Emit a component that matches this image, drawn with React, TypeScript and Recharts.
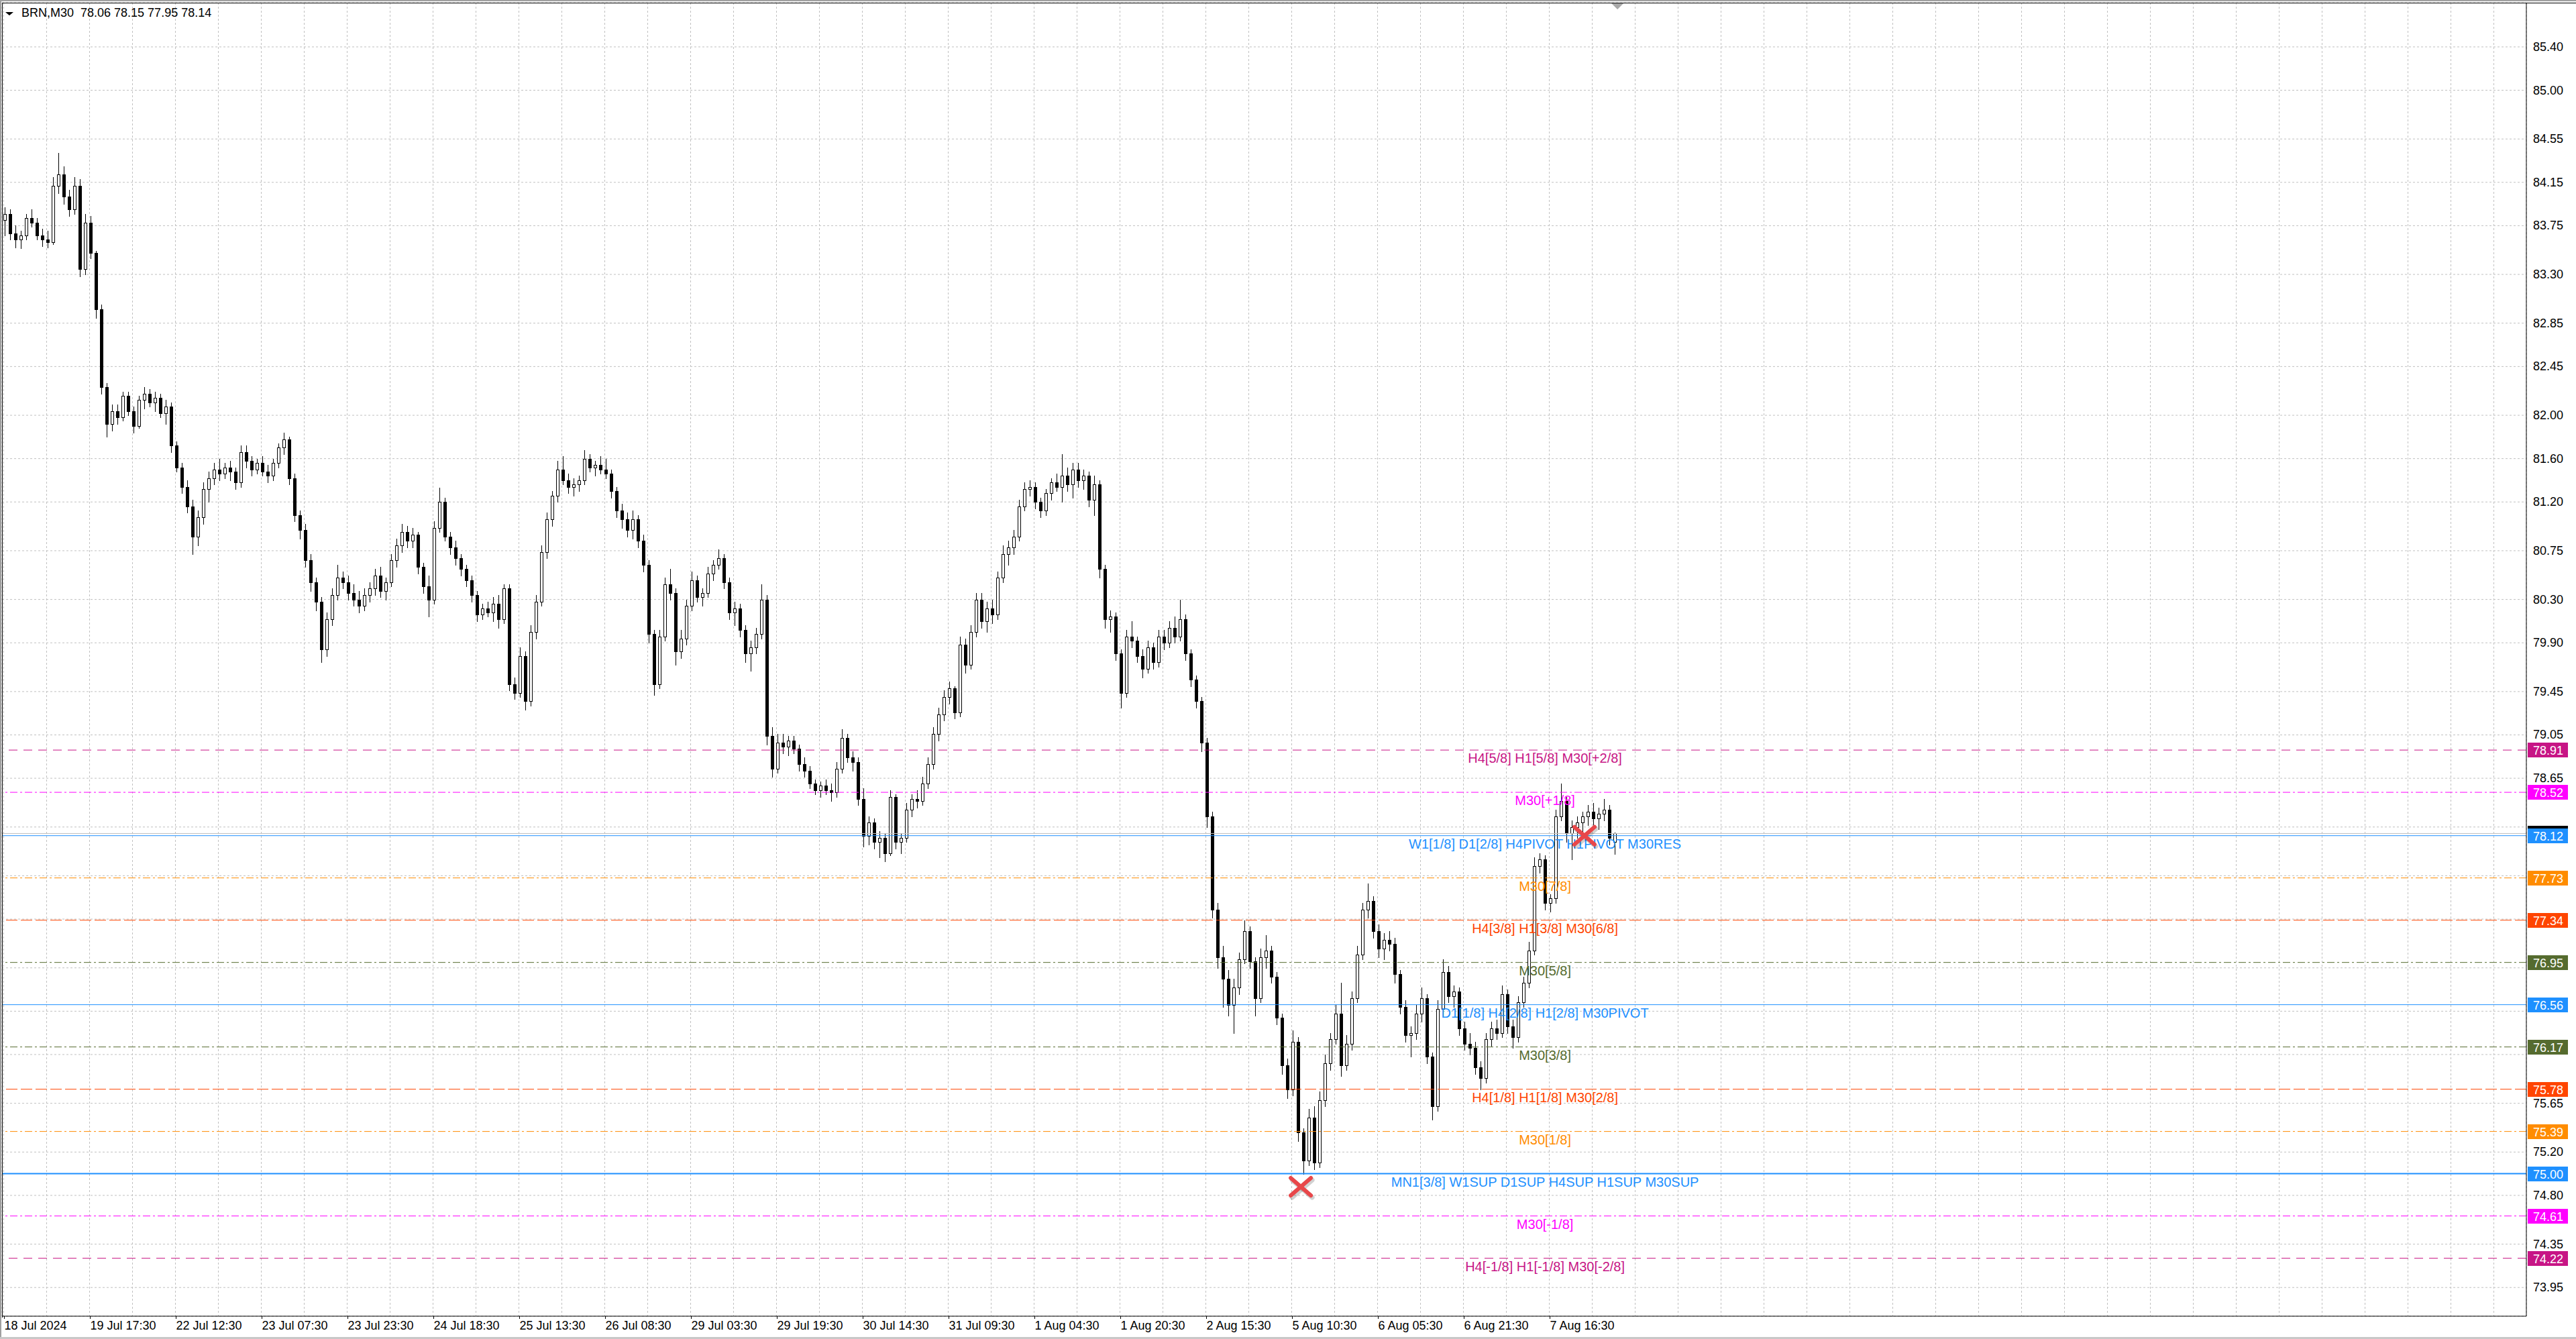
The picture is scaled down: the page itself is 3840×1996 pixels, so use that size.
import React from 'react';
import { ComposedChart, Bar, XAxis, YAxis, CartesianGrid, ReferenceLine, ReferenceDot } from 'recharts';

const SYMBOL = 'BRN,M30';
const FONT = "'Liberation Sans', Arial, sans-serif";

const timeLabels = [
  '18 Jul 2024', '19 Jul 17:30', '22 Jul 12:30', '23 Jul 07:30', '23 Jul 23:30',
  '24 Jul 18:30', '25 Jul 13:30', '26 Jul 08:30', '29 Jul 03:30', '29 Jul 19:30',
  '30 Jul 14:30', '31 Jul 09:30', '1 Aug 04:30', '1 Aug 20:30', '2 Aug 15:30',
  '5 Aug 10:30', '6 Aug 05:30', '6 Aug 21:30', '7 Aug 16:30',
];

// [open, high, low, close] - one candle per hour, one array per time-label span
const s18Jul = [
  [83.80, 83.92, 83.66, 83.86], [83.86, 83.90, 83.62, 83.68], [83.68, 83.75, 83.55, 83.62], [83.62, 83.70, 83.54, 83.66],
  [83.66, 83.86, 83.62, 83.82], [83.82, 83.90, 83.74, 83.78], [83.78, 83.82, 83.62, 83.66], [83.66, 83.72, 83.56, 83.62],
  [83.62, 83.70, 83.55, 83.60], [83.60, 84.20, 83.58, 84.12], [84.12, 84.42, 84.05, 84.22], [84.22, 84.30, 83.95, 84.02],
  [84.02, 84.08, 83.84, 83.90], [83.90, 84.20, 83.86, 84.12], [84.12, 84.18, 83.28, 83.35], [83.35, 83.86, 83.30, 83.78],
];
const s19Jul = [
  [83.78, 83.84, 83.45, 83.50], [83.50, 83.52, 82.90, 82.98], [82.98, 83.02, 82.20, 82.26], [82.26, 82.30, 81.80, 81.92],
  [81.92, 82.10, 81.86, 82.04], [82.04, 82.10, 81.92, 81.98], [81.98, 82.22, 81.95, 82.18], [82.18, 82.22, 82.00, 82.04],
  [82.04, 82.08, 81.84, 81.90], [81.90, 82.18, 81.88, 82.14], [82.14, 82.26, 82.06, 82.20], [82.20, 82.24, 82.08, 82.12],
  [82.12, 82.22, 82.04, 82.16], [82.16, 82.20, 81.98, 82.02], [82.02, 82.14, 81.92, 82.08], [82.08, 82.12, 81.66, 81.72],
];
const s22Jul = [
  [81.72, 81.76, 81.48, 81.52], [81.52, 81.56, 81.28, 81.34], [81.34, 81.40, 81.10, 81.16], [81.16, 81.22, 80.72, 80.88],
  [80.88, 81.12, 80.80, 81.06], [81.06, 81.38, 81.00, 81.32], [81.32, 81.48, 81.20, 81.42], [81.42, 81.56, 81.36, 81.50],
  [81.50, 81.60, 81.40, 81.46], [81.46, 81.56, 81.42, 81.52], [81.52, 81.58, 81.40, 81.48], [81.48, 81.52, 81.32, 81.38],
  [81.38, 81.72, 81.34, 81.66], [81.66, 81.72, 81.52, 81.58], [81.58, 81.62, 81.44, 81.50], [81.50, 81.60, 81.46, 81.56],
];
const s23JulAm = [
  [81.56, 81.62, 81.44, 81.48], [81.48, 81.54, 81.38, 81.44], [81.44, 81.60, 81.40, 81.56], [81.56, 81.74, 81.52, 81.70],
  [81.70, 81.84, 81.64, 81.78], [81.78, 81.80, 81.36, 81.42], [81.42, 81.46, 81.02, 81.08], [81.08, 81.12, 80.86, 80.94],
  [80.94, 81.00, 80.60, 80.66], [80.66, 80.72, 80.38, 80.46], [80.46, 80.50, 80.20, 80.28], [80.28, 80.32, 79.72, 79.84],
  [79.84, 80.18, 79.78, 80.12], [80.12, 80.40, 80.06, 80.34], [80.34, 80.62, 80.30, 80.50], [80.50, 80.56, 80.40, 80.46],
];
const s23JulPm = [
  [80.46, 80.52, 80.30, 80.36], [80.36, 80.44, 80.24, 80.30], [80.30, 80.38, 80.18, 80.24], [80.24, 80.40, 80.20, 80.34],
  [80.34, 80.46, 80.28, 80.40], [80.40, 80.58, 80.34, 80.52], [80.52, 80.60, 80.32, 80.38], [80.38, 80.50, 80.30, 80.46],
  [80.46, 80.72, 80.42, 80.66], [80.66, 80.86, 80.60, 80.80], [80.80, 81.00, 80.74, 80.92], [80.92, 80.98, 80.78, 80.84],
  [80.84, 80.96, 80.78, 80.90], [80.90, 80.92, 80.54, 80.60], [80.60, 80.64, 80.36, 80.42], [80.42, 80.52, 80.14, 80.30],
];
const s24Jul = [
  [80.30, 81.02, 80.26, 80.96], [80.96, 81.33, 80.92, 81.20], [81.20, 81.24, 80.84, 80.88], [80.88, 80.92, 80.72, 80.78],
  [80.78, 80.84, 80.62, 80.68], [80.68, 80.72, 80.52, 80.58], [80.58, 80.62, 80.42, 80.48], [80.48, 80.52, 80.28, 80.34],
  [80.34, 80.38, 80.10, 80.16], [80.16, 80.26, 80.12, 80.22], [80.22, 80.28, 80.14, 80.18], [80.18, 80.32, 80.10, 80.26],
  [80.26, 80.34, 80.04, 80.12], [80.12, 80.44, 80.08, 80.40], [80.40, 80.44, 79.46, 79.52], [79.52, 79.58, 79.38, 79.44],
];
const s25Jul = [
  [79.44, 79.86, 79.40, 79.78], [79.78, 79.82, 79.28, 79.36], [79.36, 80.06, 79.32, 80.00], [80.00, 80.34, 79.94, 80.28],
  [80.28, 80.80, 80.24, 80.74], [80.74, 81.10, 80.68, 81.04], [81.04, 81.30, 80.98, 81.26], [81.26, 81.58, 81.20, 81.50],
  [81.50, 81.62, 81.36, 81.40], [81.40, 81.46, 81.28, 81.34], [81.34, 81.42, 81.26, 81.36], [81.36, 81.44, 81.30, 81.40],
  [81.40, 81.68, 81.36, 81.60], [81.60, 81.64, 81.48, 81.52], [81.52, 81.58, 81.44, 81.54], [81.54, 81.62, 81.46, 81.50],
];
const s26Jul = [
  [81.50, 81.60, 81.42, 81.46], [81.46, 81.50, 81.24, 81.30], [81.30, 81.34, 81.06, 81.12], [81.12, 81.18, 80.96, 81.04],
  [81.04, 81.10, 80.88, 80.94], [80.94, 81.12, 80.86, 81.04], [81.04, 81.08, 80.78, 80.84], [80.84, 80.90, 80.56, 80.62],
  [80.62, 80.66, 79.90, 79.98], [79.98, 80.02, 79.42, 79.52], [79.52, 80.02, 79.48, 79.96], [79.96, 80.50, 79.92, 80.44],
  [80.44, 80.58, 80.30, 80.36], [80.36, 80.40, 79.70, 79.82], [79.82, 80.02, 79.76, 79.94], [79.94, 80.30, 79.88, 80.24],
];
const s29JulAm = [
  [80.24, 80.56, 80.20, 80.48], [80.48, 80.52, 80.28, 80.32], [80.32, 80.40, 80.24, 80.36], [80.36, 80.60, 80.32, 80.54],
  [80.54, 80.66, 80.48, 80.62], [80.62, 80.76, 80.58, 80.68], [80.68, 80.72, 80.40, 80.46], [80.46, 80.50, 80.12, 80.18],
  [80.18, 80.28, 80.06, 80.22], [80.22, 80.26, 79.96, 80.02], [80.02, 80.06, 79.72, 79.80], [79.80, 79.92, 79.64, 79.86],
  [79.86, 80.04, 79.80, 79.98], [79.98, 80.44, 79.94, 80.30], [80.30, 80.34, 78.96, 79.04], [79.04, 79.12, 78.66, 78.74],
];
const s29JulPm = [
  [78.74, 79.06, 78.70, 78.98], [78.98, 79.06, 78.88, 78.94], [78.94, 79.04, 78.86, 79.00], [79.00, 79.04, 78.88, 78.92],
  [78.92, 78.96, 78.72, 78.78], [78.78, 78.84, 78.66, 78.72], [78.72, 78.76, 78.56, 78.60], [78.60, 78.64, 78.50, 78.54],
  [78.54, 78.62, 78.48, 78.58], [78.58, 78.64, 78.50, 78.54], [78.54, 78.60, 78.44, 78.52], [78.52, 78.80, 78.48, 78.74],
  [78.74, 79.10, 78.70, 79.02], [79.02, 79.06, 78.80, 78.84], [78.84, 78.90, 78.72, 78.80], [78.80, 78.84, 78.40, 78.46],
];
const s30Jul = [
  [78.46, 78.56, 78.02, 78.12], [78.12, 78.30, 78.04, 78.24], [78.24, 78.28, 78.00, 78.06], [78.06, 78.16, 77.92, 78.10],
  [78.10, 78.14, 77.88, 77.96], [77.96, 78.54, 77.94, 78.48], [78.48, 78.50, 78.00, 78.06], [78.06, 78.14, 77.96, 78.10],
  [78.10, 78.42, 78.06, 78.36], [78.36, 78.50, 78.30, 78.46], [78.46, 78.54, 78.38, 78.44], [78.44, 78.66, 78.40, 78.60],
  [78.60, 78.84, 78.56, 78.78], [78.78, 79.12, 78.74, 79.06], [79.06, 79.30, 79.00, 79.24], [79.24, 79.46, 79.18, 79.40],
];
const s31Jul = [
  [79.40, 79.54, 79.34, 79.48], [79.48, 79.50, 79.20, 79.26], [79.26, 79.96, 79.22, 79.88], [79.88, 79.94, 79.62, 79.70],
  [79.70, 80.06, 79.66, 80.00], [80.00, 80.36, 79.96, 80.30], [80.30, 80.36, 80.04, 80.10], [80.10, 80.28, 80.00, 80.22],
  [80.22, 80.30, 80.08, 80.16], [80.16, 80.56, 80.12, 80.50], [80.50, 80.80, 80.46, 80.72], [80.72, 80.84, 80.62, 80.78],
  [80.78, 80.94, 80.72, 80.88], [80.88, 81.22, 80.84, 81.16], [81.16, 81.38, 81.12, 81.32], [81.32, 81.40, 81.26, 81.34],
];
const s1AugAm = [
  [81.34, 81.38, 81.14, 81.20], [81.20, 81.24, 81.06, 81.12], [81.12, 81.32, 81.08, 81.28], [81.28, 81.42, 81.22, 81.38],
  [81.38, 81.46, 81.30, 81.34], [81.34, 81.64, 81.20, 81.44], [81.44, 81.52, 81.30, 81.36], [81.36, 81.56, 81.24, 81.50],
  [81.50, 81.56, 81.34, 81.40], [81.40, 81.50, 81.32, 81.44], [81.44, 81.48, 81.16, 81.22], [81.22, 81.44, 81.08, 81.36],
  [81.36, 81.40, 80.50, 80.58], [80.58, 80.62, 80.04, 80.12], [80.12, 80.20, 80.00, 80.14], [80.14, 80.18, 79.74, 79.80],
];
const s1AugPm = [
  [79.80, 79.84, 79.30, 79.44], [79.44, 80.02, 79.40, 79.96], [79.96, 80.10, 79.86, 79.92], [79.92, 79.96, 79.72, 79.78],
  [79.78, 79.84, 79.58, 79.66], [79.66, 79.92, 79.62, 79.86], [79.86, 79.90, 79.66, 79.72], [79.72, 80.02, 79.68, 79.96],
  [79.96, 80.02, 79.84, 79.90], [79.90, 80.10, 79.86, 80.04], [80.04, 80.14, 79.90, 79.96], [79.96, 80.30, 79.92, 80.12],
  [80.12, 80.16, 79.74, 79.80], [79.80, 79.84, 79.50, 79.56], [79.56, 79.60, 79.30, 79.36], [79.36, 79.40, 78.90, 78.98],
];
const s2Aug = [
  [78.98, 79.02, 78.20, 78.30], [78.30, 78.34, 77.36, 77.44], [77.44, 77.50, 76.90, 77.00], [77.00, 77.10, 76.54, 76.80],
  [76.80, 76.88, 76.46, 76.56], [76.56, 76.80, 76.30, 76.72], [76.72, 77.04, 76.66, 76.98], [76.98, 77.34, 76.94, 77.24],
  [77.24, 77.28, 76.90, 76.96], [76.96, 77.00, 76.46, 76.62], [76.62, 77.08, 76.58, 77.00], [77.00, 77.20, 76.90, 77.06],
  [77.06, 77.10, 76.76, 76.82], [76.82, 76.86, 76.38, 76.44], [76.44, 76.48, 75.92, 76.00], [76.00, 76.06, 75.70, 75.78],
];
const s5Aug = [
  [75.78, 76.32, 75.72, 76.22], [76.22, 76.26, 75.30, 75.38], [75.38, 75.42, 75.00, 75.12], [75.12, 75.60, 75.08, 75.52],
  [75.52, 75.62, 75.04, 75.10], [75.10, 75.76, 75.06, 75.68], [75.68, 76.10, 75.62, 76.02], [76.02, 76.30, 75.96, 76.24],
  [76.24, 76.56, 76.20, 76.48], [76.48, 76.76, 75.90, 76.00], [76.00, 76.28, 75.96, 76.20], [76.20, 76.68, 76.14, 76.62],
  [76.62, 77.10, 76.58, 77.02], [77.02, 77.50, 76.98, 77.44], [77.44, 77.68, 77.36, 77.52], [77.52, 77.56, 77.18, 77.24],
];
const s6AugAm = [
  [77.24, 77.30, 77.00, 77.08], [77.08, 77.22, 76.98, 77.16], [77.16, 77.24, 77.06, 77.12], [77.12, 77.18, 76.76, 76.84],
  [76.84, 76.88, 76.48, 76.54], [76.54, 76.60, 76.22, 76.28], [76.28, 76.36, 76.08, 76.30], [76.30, 76.56, 76.24, 76.48],
  [76.48, 76.72, 76.40, 76.62], [76.62, 76.66, 76.02, 76.08], [76.08, 76.12, 75.50, 75.62], [75.62, 76.60, 75.58, 76.52],
  [76.52, 76.98, 76.46, 76.86], [76.86, 76.92, 76.58, 76.64], [76.64, 76.74, 76.54, 76.68], [76.68, 76.72, 76.28, 76.34],
];
const s6AugPm = [
  [76.34, 76.40, 76.14, 76.20], [76.20, 76.30, 76.10, 76.16], [76.16, 76.22, 75.92, 75.98], [75.98, 76.04, 75.78, 75.88],
  [75.88, 76.30, 75.84, 76.24], [76.24, 76.40, 76.18, 76.34], [76.34, 76.42, 76.24, 76.30], [76.30, 76.74, 76.26, 76.66],
  [76.66, 76.70, 76.30, 76.36], [76.36, 76.42, 76.16, 76.26], [76.26, 76.64, 76.22, 76.58], [76.58, 76.82, 76.54, 76.76],
  [76.76, 77.14, 76.72, 77.06], [77.06, 77.92, 77.02, 77.84], [77.84, 77.96, 77.78, 77.90], [77.90, 77.94, 77.44, 77.50],
];
const s7Aug = [
  [77.50, 77.58, 77.42, 77.54], [77.54, 78.36, 77.50, 78.30], [78.30, 78.60, 78.26, 78.44], [78.44, 78.48, 78.06, 78.14],
  [78.14, 78.26, 77.90, 78.20], [78.20, 78.30, 78.10, 78.24], [78.24, 78.34, 78.16, 78.30], [78.30, 78.40, 78.22, 78.34],
  [78.34, 78.42, 78.20, 78.28], [78.28, 78.38, 78.18, 78.32], [78.32, 78.46, 78.26, 78.36], [78.36, 78.40, 78.04, 78.10],
  [78.06, 78.15, 77.95, 78.14],
];

const segments = [
  s18Jul, s19Jul, s22Jul, s23JulAm, s23JulPm, s24Jul, s25Jul, s26Jul, s29JulAm, s29JulPm,
  s30Jul, s31Jul, s1AugAm, s1AugPm, s2Aug, s5Aug, s6AugAm, s6AugPm, s7Aug,
];

const priceTicks = [
  85.40, 85.00, 84.55, 84.15, 83.75, 83.30, 82.85, 82.45, 82.00, 81.60, 81.20, 80.75, 80.30, 79.90,
  79.45, 79.05, 78.65, 78.20, 77.75, 77.35, 76.90, 76.50, 76.10, 75.65, 75.20, 74.80, 74.35, 73.95,
];

// Murrey-math style levels drawn by the indicator
const levelPrices = [78.91, 78.52, 78.12, 77.73, 77.34, 76.95, 76.56, 76.17, 75.78, 75.39, 75.00, 74.61, 74.22];
const levelNames = [
  'H4[5/8] H1[5/8] M30[+2/8]',
  'M30[+1/8]',
  'W1[1/8] D1[2/8] H4PIVOT H1PIVOT M30RES',
  'M30[7/8]',
  'H4[3/8] H1[3/8] M30[6/8]',
  'M30[5/8]',
  'D1[1/8] H4[2/8] H1[2/8] M30PIVOT',
  'M30[3/8]',
  'H4[1/8] H1[1/8] M30[2/8]',
  'M30[1/8]',
  'MN1[3/8] W1SUP D1SUP H4SUP H1SUP M30SUP',
  'M30[-1/8]',
  'H4[-1/8] H1[-1/8] M30[-2/8]',
];
const levelColors = [
  '#C71585', '#FF00FF', '#1E90FF', '#FF8C00', '#FF4500', '#556B2F', '#1E90FF',
  '#556B2F', '#FF4500', '#FF8C00', '#1E90FF', '#FF00FF', '#C71585',
];
const levelStyles = [
  'dash', 'dashdot', 'solid', 'dashdot', 'longdash', 'dashdot', 'solid',
  'dashdot', 'longdash', 'dashdot', 'thick', 'dashdot', 'dash',
];

// red markers put on the chart (bar number, price)
const crossMarks = [
  { bar: 483.4, price: 74.88 },
  { bar: 589.1, price: 78.12 },
];

const BARS_PER_LABEL = 32;
const LABEL_BAR = 574.4; // where the level names are centred
const SHIFT_BAR = 601.4;

const candles = segments.flatMap((seg, s) =>
  seg.map(([open, high, low, close], j) => ({
    bar: s * BARS_PER_LABEL + j * 2 + 0.5,
    open,
    high,
    low,
    close,
    range: [low, high],
  })),
);

const last = candles[candles.length - 1];
const gridTicks = Array.from({ length: 59 }, (_, i) => i * 16);

const dashFor = (style: string) => {
  if (style === 'dash') return '13 9';
  if (style === 'longdash') return '17 5';
  if (style === 'dashdot') return '11 4 3 4';
  return undefined;
};

// axis prices that sit under a level's price box are covered, as in the terminal
const coveredByBox = (v: number) =>
  [...levelPrices, last.close].some((p) => Math.abs(p - v) < 0.085);

const Candle = (props: any) => {
  const { x, y, width, height, payload } = props;
  if (!payload) return null;
  const { open, high, low, close } = payload;
  const top = Math.min(y, y + height);
  const bottom = Math.max(y, y + height);
  const k = high > low ? (bottom - top) / (high - low) : 0;
  const yOf = (p: number) => top + (high - p) * k;
  const cx = Math.round(x + width / 2);
  const bTop = Math.round(yOf(Math.max(open, close)));
  const bBot = Math.round(yOf(Math.min(open, close)));
  const up = close >= open;
  return (
    <g shapeRendering="crispEdges">
      <line x1={cx + 0.5} x2={cx + 0.5} y1={Math.round(top)} y2={Math.round(bottom) + 1} stroke="#000" strokeWidth={1} />
      <rect
        x={cx - 1.5}
        y={bTop + 0.5}
        width={4}
        height={Math.max(bBot - bTop, 1)}
        fill={up ? '#fff' : '#000'}
        stroke="#000"
        strokeWidth={1}
      />
    </g>
  );
};

const PriceTick = (props: any) => {
  const { x, y, payload } = props;
  const v = Number(payload.value);
  if (coveredByBox(v)) return null;
  return (
    <text x={x + 10} y={y} dominantBaseline="central" fontSize={18} fontFamily={FONT} fill="#000">
      {v.toFixed(2)}
    </text>
  );
};

const TimeTick = (props: any) => {
  const { x, y, payload } = props;
  const v = payload.value;
  const idx = v / BARS_PER_LABEL;
  if (v % BARS_PER_LABEL !== 0 || idx >= timeLabels.length) return null;
  return (
    <g>
      <line x1={x + 0.5} x2={x + 0.5} y1={y} y2={y + 4} stroke="#000" shapeRendering="crispEdges" />
      <text x={x + 1} y={y + 20} fontSize={18} fontFamily={FONT} fill="#000">
        {timeLabels[idx]}
      </text>
    </g>
  );
};

const PriceBox = (props: any) => {
  const { viewBox, price, color } = props;
  if (!viewBox) return null;
  const right = viewBox.x + viewBox.width;
  const cy = viewBox.y;
  return (
    <g>
      <rect x={right + 2} y={cy - 11} width={60} height={22} fill={color} shapeRendering="crispEdges" />
      <text x={right + 10} y={cy + 1} dominantBaseline="central" fontSize={18} fontFamily={FONT} fill="#fff">
        {price.toFixed(2)}
      </text>
    </g>
  );
};

const Cross = (props: any) => {
  const { cx, cy } = props;
  const dx = 15;
  const dy = 13;
  return (
    <g strokeLinecap="round">
      <g stroke="rgba(0,0,0,0.18)" strokeWidth={7} transform="translate(2,3)">
        <line x1={cx - dx} y1={cy - dy} x2={cx + dx} y2={cy + dy} />
        <line x1={cx - dx} y1={cy + dy} x2={cx + dx} y2={cy - dy} />
      </g>
      <g stroke="#E8474A" strokeWidth={6}>
        <line x1={cx - dx} y1={cy - dy} x2={cx + dx} y2={cy + dy} />
        <line x1={cx - dx} y1={cy + dy} x2={cx + dx} y2={cy - dy} />
      </g>
    </g>
  );
};

export default function App() {
  return (
    <div style={{ position: 'absolute', left: 0, top: 0, width: 3840, height: 1996, background: '#fff', overflow: 'hidden' }}>
      <ComposedChart
        width={3840}
        height={1996}
        data={candles}
        margin={{ top: 4, right: 0, bottom: 0, left: 3 }}
      >
        <CartesianGrid stroke="#C0C0C0" strokeDasharray="3 3" />
        <XAxis
          dataKey="bar"
          type="number"
          domain={[-0.625, 940.125]}
          ticks={gridTicks}
          interval={0}
          allowDataOverflow
          height={34}
          tickLine={false}
          tickSize={0}
          tickMargin={0}
          tick={<TimeTick />}
          axisLine={{ stroke: '#000' }}
        />
        <YAxis
          orientation="right"
          type="number"
          domain={[73.685, 85.808]}
          ticks={priceTicks}
          interval={0}
          allowDataOverflow
          width={74}
          tickLine={false}
          tickSize={0}
          tickMargin={0}
          tick={<PriceTick />}
          axisLine={{ stroke: '#000' }}
        />
        <ReferenceLine y={last.close} stroke="#C0C0C0" strokeWidth={1} label={<PriceBox price={last.close} color="#000" />} />
        {levelPrices.map((p, i) => (
          <ReferenceLine
            key={'lvl' + i}
            y={p}
            stroke={levelColors[i]}
            strokeWidth={levelStyles[i] === 'thick' ? 2 : 1}
            strokeDasharray={dashFor(levelStyles[i])}
            label={<PriceBox price={p} color={levelColors[i]} />}
          />
        ))}
        <Bar dataKey="range" barSize={5} shape={<Candle />} isAnimationActive={false} />
        {levelPrices.map((p, i) => (
          <ReferenceDot
            key={'name' + i}
            x={LABEL_BAR}
            y={p}
            r={0}
            ifOverflow="visible"
            shape={(sp: any) => (
              <text x={sp.cx} y={sp.cy + 19} textAnchor="middle" fontSize={20} fontFamily={FONT} fill={levelColors[i]}>
                {levelNames[i]}
              </text>
            )}
          />
        ))}
        {crossMarks.map((m, i) => (
          <ReferenceDot key={'x' + i} x={m.bar} y={m.price} r={0} ifOverflow="visible" shape={(sp: any) => <Cross {...sp} />} />
        ))}
        <ReferenceDot
          x={SHIFT_BAR}
          y={85.808}
          r={0}
          ifOverflow="visible"
          shape={(sp: any) => (
            <polygon points={`${sp.cx - 10},${sp.cy} ${sp.cx + 10},${sp.cy} ${sp.cx},${sp.cy + 10}`} fill="#A8A8A8" />
          )}
        />
      </ComposedChart>
      <div style={{ position: 'absolute', left: 0, top: 0, width: 3840, height: 2, background: '#A0A0A0' }} />
      <div style={{ position: 'absolute', left: 3, top: 4, width: 3837, height: 1, background: '#000' }} />
      <div style={{ position: 'absolute', left: 0, top: 0, width: 2, height: 1996, background: '#A0A0A0' }} />
      <div style={{ position: 'absolute', left: 3, top: 4, width: 1, height: 1960, background: '#000' }} />
      <div style={{ position: 'absolute', left: 0, top: 1993, width: 3840, height: 3, background: '#C8C8C8' }} />
      <svg style={{ position: 'absolute', left: 0, top: 0 }} width={30} height={30}>
        <polygon points="8,18 20,18 14,23" fill="#000" />
      </svg>
      <div
        style={{
          position: 'absolute',
          left: 32,
          top: 10,
          fontFamily: FONT,
          fontSize: 18,
          lineHeight: '18px',
          color: '#000',
          whiteSpace: 'pre',
        }}
      >
        {`${SYMBOL}  ${last.open.toFixed(2)} ${last.high.toFixed(2)} ${last.low.toFixed(2)} ${last.close.toFixed(2)}`}
      </div>
    </div>
  );
}
